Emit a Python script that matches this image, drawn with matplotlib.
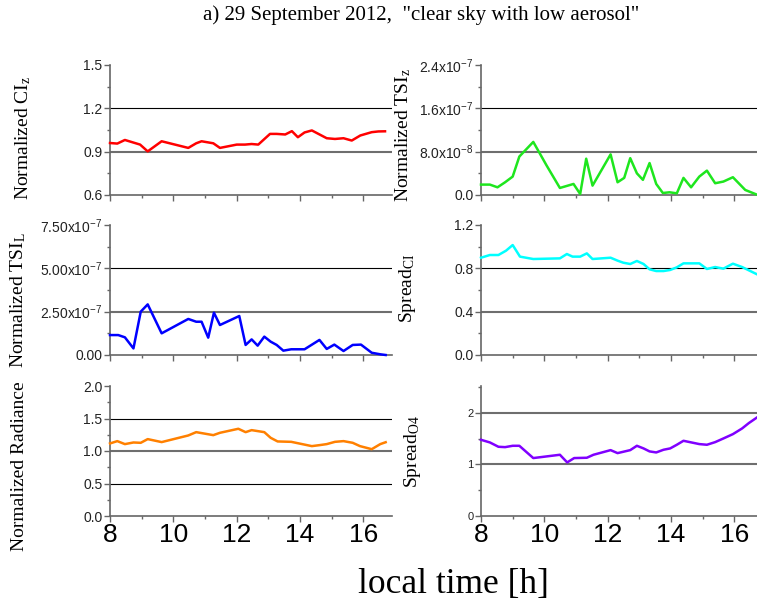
import numpy as np
import matplotlib.pyplot as plt
from matplotlib.ticker import MultipleLocator, FixedLocator

plt.rcParams['font.family'] = 'Liberation Sans'
plt.rcParams['mathtext.default'] = 'regular'

# values (local time in hours)
t_ci = [8.0, 8.23, 8.47, 8.95, 9.19, 9.63, 10.47, 10.72, 10.89, 11.26, 11.47, 12.0, 12.26,
        12.47, 12.68, 13.05, 13.26, 13.53, 13.74, 13.93, 14.14, 14.37, 14.84, 15.1, 15.37,
        15.63, 15.9, 16.26, 16.47, 16.68]
ci_z = [0.960, 0.956, 0.981, 0.949, 0.902, 0.972, 0.926, 0.958, 0.972, 0.958, 0.926, 0.949,
        0.949, 0.953, 0.949, 1.023, 1.023, 1.019, 1.042, 1.000, 1.033, 1.047, 0.993, 0.988,
        0.993, 0.977, 1.012, 1.035, 1.040, 1.041]

t_tsiz = [8.0, 8.28, 8.52, 8.76, 9.0, 9.21, 9.65, 10.07, 10.49, 10.92, 11.13, 11.32, 11.52,
          12.09, 12.31, 12.52, 12.71, 12.92, 13.11, 13.32, 13.53, 13.74, 13.95, 14.18, 14.39,
          14.63, 14.89, 15.13, 15.39, 15.65, 15.95, 16.34, 16.71]
tsi_z = [1.92, 1.92, 1.42, 2.35, 3.4, 7.1, 9.8, 5.45, 1.3, 2.04, 0.19, 6.7, 1.73, 7.5, 2.35,
         3.16, 6.8, 4.0, 2.8, 5.9, 2.04, 0.37, 0.5, 0.31, 3.16, 1.42, 3.4, 4.5, 2.17, 2.48,
         3.28, 0.93, 0.06]  # x1e-8

t_tsil = [8.0, 8.26, 8.47, 8.74, 8.97, 9.19, 9.63, 10.47, 10.72, 10.89, 11.1, 11.28, 11.47,
          12.08, 12.28, 12.47, 12.66, 12.87, 13.07, 13.26, 13.47, 13.72, 14.14, 14.61, 14.84,
          15.08, 15.37, 15.66, 15.92, 16.26, 16.53, 16.7]
tsi_l = [1.15, 1.15, 1.02, 0.38, 2.5, 2.92, 1.25, 2.08, 1.92, 1.92, 1.0, 2.44, 1.73, 2.25,
         0.58, 0.9, 0.54, 1.06, 0.77, 0.58, 0.25, 0.33, 0.33, 0.87, 0.35, 0.6, 0.23, 0.58,
         0.6, 0.13, 0.04, 0.0]  # x1e-7

t_spci = [8.0, 8.28, 8.55, 8.79, 9.0, 9.23, 9.65, 10.49, 10.71, 10.89, 11.13, 11.34, 11.52,
          12.09, 12.31, 12.49, 12.71, 12.92, 13.13, 13.32, 13.53, 13.76, 13.97, 14.18, 14.39,
          14.89, 15.13, 15.39, 15.65, 15.95, 16.24, 16.71]
spread_ci = [0.898, 0.923, 0.923, 0.963, 1.015, 0.908, 0.886, 0.892, 0.932, 0.908, 0.908,
             0.938, 0.886, 0.898, 0.871, 0.852, 0.840, 0.868, 0.840, 0.791, 0.775, 0.775,
             0.785, 0.809, 0.846, 0.846, 0.794, 0.812, 0.797, 0.843, 0.812, 0.745]

t_rad = [8.0, 8.23, 8.47, 8.74, 8.97, 9.19, 9.63, 10.47, 10.72, 11.26, 11.47, 12.05, 12.28,
         12.47, 12.87, 13.07, 13.29, 13.72, 14.37, 14.61, 14.84, 15.1, 15.37, 15.66, 15.89,
         16.26, 16.53, 16.7]
radiance = [1.116, 1.152, 1.106, 1.131, 1.126, 1.183, 1.137, 1.239, 1.290, 1.244, 1.280,
            1.342, 1.290, 1.321, 1.290, 1.203, 1.147, 1.141, 1.075, 1.090, 1.106, 1.141,
            1.152, 1.126, 1.075, 1.028, 1.106, 1.135]

t_o4 = [8.0, 8.28, 8.55, 8.76, 9.0, 9.21, 9.65, 10.49, 10.72, 10.94, 11.34, 11.55, 12.09,
        12.31, 12.71, 12.92, 13.13, 13.32, 13.53, 13.76, 13.97, 14.18, 14.39, 14.89, 15.13,
        15.39, 15.65, 15.95, 16.24, 16.45, 16.71]
spread_o4 = [1.477, 1.426, 1.342, 1.335, 1.361, 1.361, 1.123, 1.187, 1.039, 1.123, 1.129,
             1.187, 1.277, 1.219, 1.277, 1.361, 1.310, 1.252, 1.232, 1.284, 1.310, 1.381,
             1.458, 1.394, 1.381, 1.432, 1.503, 1.587, 1.697, 1.800, 1.910]

x_ticks = [8, 10, 12, 14, 16]

ci_ticks = [0.6, 0.9, 1.2, 1.5]
tsiz_ticks = [0, 8e-8, 1.6e-7, 2.4e-7]
tsiz_labels = ['0.0', '8.0x10$^{-8}$', '1.6x10$^{-7}$', '2.4x10$^{-7}$']
tsil_ticks = [0, 2.5e-7, 5e-7, 7.5e-7]
tsil_labels = ['0.00', '2.50x10$^{-7}$', '5.00x10$^{-7}$', '7.50x10$^{-7}$']
spci_ticks = [0.0, 0.4, 0.8, 1.2]
rad_ticks = [0.0, 0.5, 1.0, 1.5, 2.0]
o4_ticks = [0, 1, 2]

fig = plt.figure(figsize=(7.57, 6.04), dpi=100)

col_x = [110 / 757, 481 / 757]
ax_w = 282 / 757
row_y = [1 - 195 / 604, 1 - 355 / 604, 1 - 516 / 604]
ax_h = 130 / 604

BLACK, GRAY = ('k', 0.8), ('#6e6e6e', 1.5)

panels = [
    # row, col, t, y, scale, color, ylim, ticks, labels, minor, grids, label, label pos
    (0, 0, t_ci, ci_z, 1, '#ff0000', (0.6, 1.5), ci_ticks, None, 0.15,
     [(1.2, BLACK), (0.9, GRAY)], 'Normalized CI$_{z}$', (23, 138)),
    (0, 1, t_tsiz, tsi_z, 1e-8, '#1ee61e', (0, 2.4e-7), tsiz_ticks, tsiz_labels, 4e-8,
     [(1.6e-7, BLACK), (8e-8, GRAY)], 'Normalized TSI$_{z}$', (403, 135)),
    (1, 0, t_tsil, tsi_l, 1e-7, '#0000ff', (0, 7.5e-7), tsil_ticks, tsil_labels, 1.25e-7,
     [(5e-7, BLACK), (2.5e-7, GRAY)], 'Normalized TSI$_{L}$', (18, 300)),
    (1, 1, t_spci, spread_ci, 1, '#00ffff', (0, 1.2), spci_ticks, None, 0.2,
     [(0.8, BLACK), (0.4, GRAY)], 'Spread$_{CI}$', (408, 288)),
    (2, 0, t_rad, radiance, 1, '#ff8000', (0, 2.0), rad_ticks, None, 0.25,
     [(1.5, BLACK), (1.0, GRAY), (0.5, BLACK)], 'Normalized Radiance', (20, 466)),
    (2, 1, t_o4, spread_o4, 1, '#8000ff', (0, 2.52), o4_ticks, None, 0.5,
     [(2, GRAY), (1, GRAY)], 'Spread$_{O4}$', (412, 452)),
]

for row, col, t, y, scale, color, ylim, ticks, labels, minor, grids, ylab, lpos in panels:
    ax = fig.add_axes([col_x[col], row_y[row], ax_w, ax_h])
    for g, (gc, gw) in grids:
        ax.axhline(g, color=gc, lw=gw, zorder=1)
    ax.plot(t, np.array(y) * scale, color=color, lw=1.8, zorder=3, clip_on=False)
    ax.set_xlim(8, 16.9)
    ax.set_ylim(*ylim)
    ax.xaxis.set_major_locator(FixedLocator(x_ticks))
    ax.xaxis.set_minor_locator(MultipleLocator(1))
    ax.yaxis.set_major_locator(FixedLocator(ticks))
    ax.yaxis.set_minor_locator(MultipleLocator(minor))
    if labels is not None:
        ax.set_yticklabels(labels)
    elif row == 2 and col == 1:
        ax.set_yticklabels([str(v) for v in ticks])
    else:
        ax.set_yticklabels(['%.1f' % v for v in ticks])
    for s in ['top', 'right']:
        ax.spines[s].set_visible(False)
    for s in ['left', 'bottom']:
        ax.spines[s].set_color('#666666')
        ax.spines[s].set_linewidth(1.2)
    ax.tick_params(which='both', direction='out', color='#666666', width=1)
    ax.tick_params(which='major', length=4)
    ax.tick_params(which='minor', length=2.5)
    ax.tick_params(axis='y', labelsize=8 if (row == 2 and col == 1) else 10,
                   pad=1.5, labelcolor='#222222')
    if row == 2:
        ax.tick_params(axis='x', labelsize=19, pad=1, labelcolor='black')
    else:
        ax.tick_params(axis='x', labelbottom=False)
    fig.text(lpos[0] / 757, 1 - lpos[1] / 604, ylab, rotation=90, ha='center',
             va='center', family='Liberation Serif', fontsize=14)

fig.text(421 / 757, 1 - 15 / 604, 'a) 29 September 2012,  "clear sky with low aerosol"',
         ha='center', va='center', family='Liberation Serif', fontsize=15)
fig.text(453 / 757, 1 - 585 / 604, 'local time [h]', ha='center', va='center',
         family='Liberation Serif', fontsize=25.5)

fig.savefig('out.png', dpi=100)
